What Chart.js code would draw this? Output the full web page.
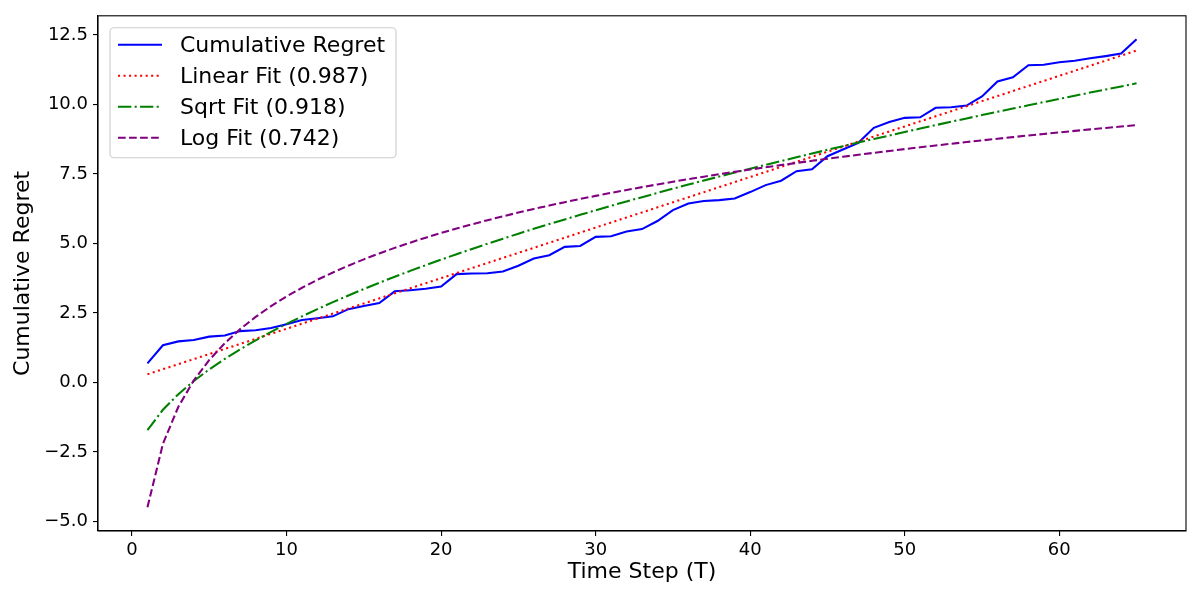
<!DOCTYPE html>
<html>
<head>
<meta charset="utf-8">
<script src="https://cdn.jsdelivr.net/npm/chart.js@4.4.1/dist/chart.umd.min.js"></script>
<style>
  html, body { margin: 0; padding: 0; background: #ffffff; }
  #wrap { width: 1200px; height: 600px; }
</style>
</head>
<body>
<div id="wrap"><canvas id="c" width="1200" height="600"></canvas></div>
<script>
// ---- data ----
const timeSteps = [1,2,3,4,5,6,7,8,9,10,11,12,13,14,15,16,17,18,19,20,
  21,22,23,24,25,26,27,28,29,30,31,32,33,34,35,36,37,38,39,40,
  41,42,43,44,45,46,47,48,49,50,51,52,53,54,55,56,57,58,59,60,
  61,62,63,64,65];
const cumulativeRegret = [0.69,1.34,1.48,1.53,1.65,1.69,1.85,1.88,1.96,2.10,
  2.25,2.31,2.38,2.64,2.75,2.86,3.28,3.32,3.37,3.45,
  3.90,3.92,3.93,3.99,4.20,4.46,4.58,4.88,4.91,5.24,
  5.26,5.43,5.52,5.81,6.20,6.44,6.53,6.56,6.62,6.85,
  7.10,7.26,7.60,7.67,8.14,8.38,8.62,9.16,9.37,9.52,
  9.54,9.88,9.90,9.96,10.29,10.83,10.98,11.41,11.43,11.52,
  11.57,11.66,11.74,11.83,12.35];
const seriesLabels = ['Cumulative Regret','Linear Fit (0.987)','Sqrt Fit (0.918)','Log Fit (0.742)'];
const xTickValues = [0,10,20,30,40,50,60];
const yTickValues = [-5,-2.5,0,2.5,5,7.5,10,12.5];

// least-squares fit of the regret data on a transformed time axis
function fitOn(transform) {
  const f = timeSteps.map(transform);
  const n = f.length;
  const mx = f.reduce((a,b)=>a+b,0)/n;
  const my = cumulativeRegret.reduce((a,b)=>a+b,0)/n;
  let sxy = 0, sxx = 0;
  for (let i = 0; i < n; i++) { sxy += (f[i]-mx)*(cumulativeRegret[i]-my); sxx += (f[i]-mx)*(f[i]-mx); }
  const a = sxy/sxx, b = my - a*mx;
  return f.map(v => a*v + b);
}
const linearFit = fitOn(t => t);
const sqrtFit = fitOn(t => Math.sqrt(t));
const logFit = fitOn(t => Math.log(t));

const pts = arr => timeSteps.map((t,i)=>({x:t, y:arr[i]}));

const LW = 2.08;
const styles = [
  {color:'#0000ff', dash:[]},
  {color:'#ff0000', dash:[2.08,3.44]},
  {color:'#008000', dash:[13.3,3.33,2.08,3.33]},
  {color:'#800080', dash:[7.7,3.33]}
];
const seriesData = [cumulativeRegret, linearFit, sqrtFit, logFit];

const datasets = seriesData.map((arr,i)=>({
  label: seriesLabels[i],
  data: pts(arr),
  borderColor: styles[i].color,
  backgroundColor: styles[i].color,
  borderWidth: LW,
  borderDash: styles[i].dash,
  pointRadius: 0,
  tension: 0,
  fill: false,
  order: 3 - i
}));

const FONT = 'DejaVu Sans';

const framePlugin = {
  id: 'frame',
  afterDatasetsDraw(chart) {
    const {ctx, chartArea:a} = chart;
    ctx.save();
    ctx.strokeStyle = '#000';
    ctx.lineWidth = 1.1;
    ctx.strokeRect(a.left, a.top, a.right - a.left, a.bottom - a.top);
    ctx.restore();
  }
};

const legendPlugin = {
  id: 'customLegend',
  afterDraw(chart) {
    const ctx = chart.ctx;
    const a = chart.chartArea;
    const x0 = a.left + 12, y0 = a.top + 12, w = 286, h = 130, r = 4;
    ctx.save();
    ctx.beginPath();
    ctx.moveTo(x0+r, y0);
    ctx.lineTo(x0+w-r, y0); ctx.arcTo(x0+w, y0, x0+w, y0+r, r);
    ctx.lineTo(x0+w, y0+h-r); ctx.arcTo(x0+w, y0+h, x0+w-r, y0+h, r);
    ctx.lineTo(x0+r, y0+h); ctx.arcTo(x0, y0+h, x0, y0+h-r, r);
    ctx.lineTo(x0, y0+r); ctx.arcTo(x0, y0, x0+r, y0, r);
    ctx.closePath();
    ctx.fillStyle = 'rgba(255,255,255,0.8)';
    ctx.fill();
    ctx.strokeStyle = '#cccccc';
    ctx.lineWidth = 1.1;
    ctx.stroke();
    const rowY = [44, 75, 106, 137].map(v => v - 15 + a.top);
    seriesLabels.forEach((lab, i) => {
      const y = rowY[i];
      ctx.beginPath();
      ctx.setLineDash(styles[i].dash);
      ctx.strokeStyle = styles[i].color;
      ctx.lineWidth = LW;
      ctx.moveTo(x0 + 8, y);
      ctx.lineTo(x0 + 52, y);
      ctx.stroke();
      ctx.setLineDash([]);
      ctx.fillStyle = '#000';
      ctx.font = '22px "' + FONT + '"';
      ctx.textBaseline = 'middle';
      ctx.textAlign = 'left';
      ctx.fillText(lab, x0 + 70, y + 1);
    });
    ctx.restore();
  }
};

const fmtY = v => (v < 0 ? '\u2212' : '') + Math.abs(v).toFixed(1);

new Chart(document.getElementById('c'), {
  type: 'line',
  data: { datasets },
  options: {
    responsive: false,
    animation: false,
    devicePixelRatio: 1,
    layout: { padding: { top: 15, right: 14, bottom: 0, left: 0 } },
    plugins: { legend: { display: false }, tooltip: { enabled: false } },
    scales: {
      x: {
        type: 'linear',
        min: -2.2, max: 68.2,
        afterBuildTicks: s => { s.ticks = xTickValues.map(v => ({value: v})); },
        afterFit: s => { s.height = 69; },
        grid: { drawOnChartArea: false, drawTicks: true, tickLength: 5, color: '#000', lineWidth: 1.1 },
        border: { display: true, color: '#000', width: 1.1 },
        ticks: { color: '#000', font: { family: FONT, size: 18 }, padding: 4, maxRotation: 0, autoSkip: false,
                 callback: v => String(v) },
        title: { display: true, text: 'Time Step (T)', color: '#000', font: { family: FONT, size: 22 },
                 padding: { top: 4, bottom: 15 } }
      },
      y: {
        type: 'linear',
        min: -5.34, max: 13.19,
        afterBuildTicks: s => { s.ticks = yTickValues.map(v => ({value: v})); },
        afterFit: s => { s.width = 98; },
        grid: { drawOnChartArea: false, drawTicks: true, tickLength: 5, color: '#000', lineWidth: 1.1 },
        border: { display: true, color: '#000', width: 1.1 },
        ticks: { color: '#000', font: { family: FONT, size: 18 }, padding: 5, autoSkip: false,
                 callback: v => fmtY(v) },
        title: { display: true, text: 'Cumulative Regret', color: '#000', font: { family: FONT, size: 22 },
                 padding: { top: 10, bottom: 4 } }
      }
    }
  },
  plugins: [framePlugin, legendPlugin]
});
</script>
</body>
</html>
